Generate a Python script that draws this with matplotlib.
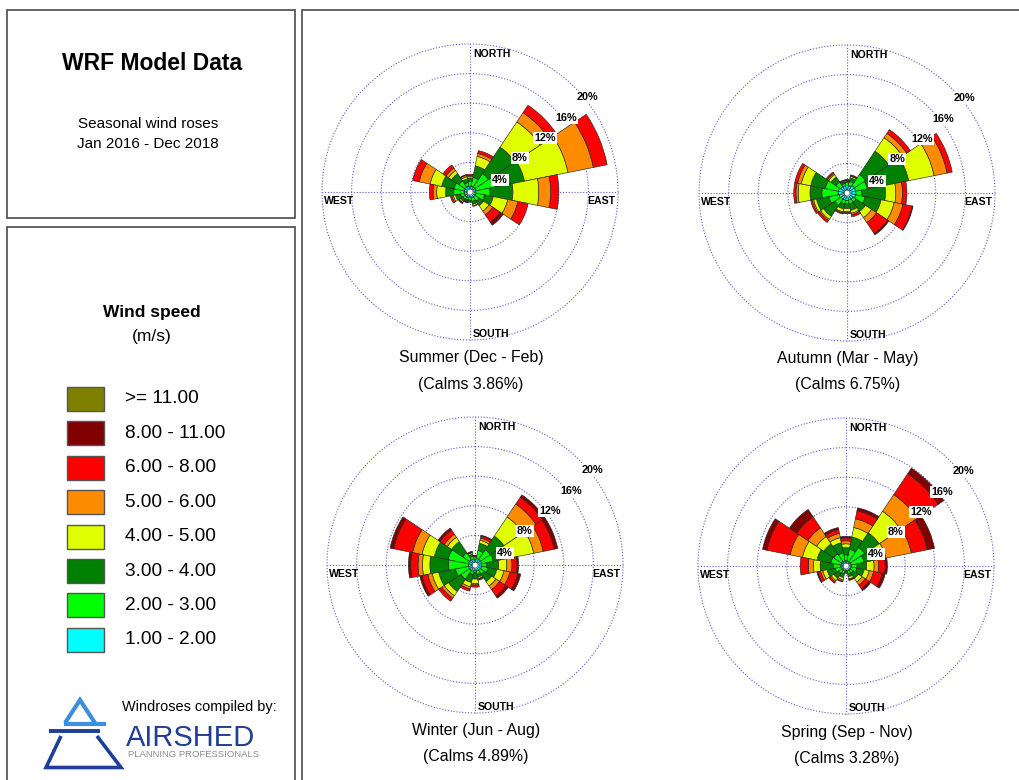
import numpy as np
import matplotlib
matplotlib.use('Agg')
import matplotlib.pyplot as plt
from matplotlib import font_manager
from matplotlib.patches import Rectangle
from matplotlib.lines import Line2D

# ---------------- data ----------------
DIRECTIONS = ['N', 'NNE', 'NE', 'ENE', 'E', 'ESE', 'SE', 'SSE',
              'S', 'SSW', 'SW', 'WSW', 'W', 'WNW', 'NW', 'NNW']
SPEED_CLASSES = ['1.00 - 2.00', '2.00 - 3.00', '3.00 - 4.00', '4.00 - 5.00',
                 '5.00 - 6.00', '6.00 - 8.00', '8.00 - 11.00', '>= 11.00']
CLASS_COLORS = ['#00ffff', '#00ff00', '#008000', '#e0ff00',
                '#ff8c00', '#ff0000', '#800000', '#808000']
RING_VALUES = [4, 8, 12, 16, 20]
SEASON_NAMES = ['Summer (Dec - Feb)', 'Autumn (Mar - May)',
                'Winter (Jun - Aug)', 'Spring (Sep - Nov)']
CALMS = [3.86, 6.75, 4.89, 3.28]

# frequency (%) per direction (rows, N clockwise) and speed class (columns)
SUMMER = [
    [0.4, 0.6, 0.5, 0.2, 0.15, 0.15, 0, 0],
    [0.4, 1.2, 1.6, 1.3, 0.4, 0.4, 0, 0],
    [0.4, 2.2, 4.3, 4.1, 1.5, 1.2, 0, 0],
    [0.4, 2.7, 4.0, 6.0, 3.5, 1.9, 0, 0],
    [0.4, 1.9, 3.1, 3.5, 1.6, 1.1, 0, 0],
    [0.4, 1.2, 1.2, 2.0, 1.4, 1.4, 0, 0],
    [0.4, 0.7, 0.7, 0.9, 0.6, 1.2, 0.5, 0],
    [0.4, 0.5, 0.4, 0.2, 0.1, 0, 0, 0],
    [0.3, 0.4, 0.2, 0.1, 0, 0, 0, 0],
    [0.4, 0.3, 0.2, 0.1, 0.05, 0.05, 0, 0],
    [0.4, 0.4, 0.3, 0.2, 0.1, 0.1, 0, 0],
    [0.4, 0.5, 0.7, 0.3, 0.2, 0.2, 0, 0],
    [0.4, 1.4, 1.1, 1.2, 0.5, 0.5, 0, 0],
    [0.4, 1.4, 1.7, 1.6, 1.5, 0.9, 0, 0],
    [0.4, 1.0, 1.2, 0.5, 0.4, 0.5, 0, 0],
    [0.4, 0.5, 0.5, 0.3, 0.2, 0.1, 0, 0],
]
AUTUMN = [
    [0.6, 0.4, 0.2, 0.1, 0.05, 0.05, 0, 0],
    [0.6, 0.6, 0.5, 0.2, 0.1, 0.1, 0, 0],
    [0.8, 1.8, 3.8, 2.2, 0.7, 0.6, 0, 0],
    [0.8, 1.6, 5.7, 3.5, 1.8, 0.7, 0, 0],
    [0.8, 0.8, 3.2, 1.4, 0.9, 0.6, 0, 0],
    [0.8, 1.3, 2.2, 1.8, 1.2, 1.3, 0.1, 0],
    [0.6, 0.5, 1.5, 1.0, 0.8, 1.8, 0.2, 0],
    [0.6, 0.5, 0.9, 0.4, 0.2, 0.3, 0, 0],
    [0.6, 0.4, 0.7, 0.4, 0.15, 0.15, 0, 0],
    [0.6, 0.5, 0.7, 0.4, 0.15, 0.15, 0, 0],
    [0.6, 1.0, 1.8, 0.5, 0.2, 0.3, 0, 0],
    [0.7, 1.4, 1.7, 0.4, 0.2, 0.2, 0, 0],
    [0.8, 2.2, 1.6, 1.6, 0.3, 0.3, 0, 0],
    [0.8, 1.8, 2.0, 1.3, 0.5, 0.4, 0, 0],
    [0.6, 0.8, 0.8, 0.4, 0.2, 0.2, 0, 0],
    [0.6, 0.3, 0.2, 0.1, 0.1, 0.1, 0, 0],
]
WINTER = [
    [0.4, 0.3, 0.1, 0.05, 0.05, 0, 0, 0],
    [0.5, 1.1, 1.0, 0.4, 0.3, 0.3, 0.1, 0],
    [0.5, 1.6, 2.2, 3.1, 2.1, 1.1, 0.4, 0],
    [0.5, 1.6, 2.0, 3.6, 1.3, 1.5, 0.5, 0],
    [0.5, 0.7, 1.6, 1.1, 0.7, 0.7, 0.2, 0],
    [0.5, 0.9, 1.2, 1.0, 0.8, 1.1, 0.4, 0],
    [0.5, 0.6, 1.2, 0.7, 0.6, 1.0, 0.4, 0],
    [0.4, 0.5, 0.4, 0.2, 0.1, 0.1, 0, 0],
    [0.4, 0.2, 0.9, 0.6, 0.2, 0.3, 0, 0],
    [0.5, 0.4, 1.1, 0.6, 0.3, 0.3, 0, 0],
    [0.5, 1.4, 2.0, 0.7, 0.4, 0.5, 0, 0],
    [0.5, 1.8, 2.3, 0.9, 0.6, 0.8, 0.3, 0],
    [0.5, 2.7, 2.5, 1.0, 0.6, 1.0, 0.3, 0],
    [0.5, 2.8, 1.9, 1.7, 1.3, 2.6, 0.5, 0],
    [0.5, 1.1, 1.8, 0.7, 0.5, 0.7, 0.3, 0],
    [0.4, 0.4, 0.3, 0.2, 0.1, 0.1, 0, 0],
]
SPRING = [
    [0.3, 0.8, 1.0, 0.5, 0.4, 0.4, 0.2, 0],
    [0.3, 1.6, 1.7, 1.3, 1.2, 1.1, 0.4, 0],
    [0.3, 2.3, 2.4, 3.5, 2.7, 3.4, 0.9, 0],
    [0.3, 1.8, 1.5, 1.5, 3.5, 2.2, 1.0, 0],
    [0.3, 0.8, 1.3, 1.0, 0.6, 0.9, 0.3, 0],
    [0.3, 0.8, 1.0, 0.7, 0.6, 1.2, 0.4, 0],
    [0.3, 0.5, 0.8, 0.6, 0.5, 0.6, 0.3, 0],
    [0.3, 0.4, 0.4, 0.3, 0.1, 0.1, 0, 0],
    [0.2, 0.2, 0.2, 0, 0, 0, 0, 0],
    [0.3, 0.4, 0.5, 0.3, 0.2, 0.1, 0, 0],
    [0.3, 0.5, 0.8, 0.4, 0.2, 0.2, 0, 0],
    [0.3, 0.8, 1.1, 0.6, 0.3, 0.4, 0.1, 0],
    [0.3, 1.0, 1.8, 0.9, 0.7, 1.1, 0, 0],
    [0.3, 1.4, 1.9, 2.0, 1.7, 3.2, 0.6, 0],
    [0.3, 1.3, 1.6, 1.2, 1.4, 1.8, 1.2, 0],
    [0.3, 1.1, 1.4, 0.7, 0.6, 0.5, 0.3, 0],
]
SEASON_DATA = [SUMMER, AUTUMN, WINTER, SPRING]

# ---------------- layout helpers ----------------
W, H = 1019, 780
fig = plt.figure(figsize=(W / 100, H / 100), dpi=100)
fig.patch.set_facecolor('white')

names = {f.name for f in font_manager.fontManager.ttflist}
SANS = 'Liberation Sans'
if 'Liberation Sans Narrow' in names:
    NARROW, NSCALE = 'Liberation Sans Narrow', 1.0
else:
    NARROW, NSCALE = 'Liberation Sans', 0.82


def fx(x):
    return x / W


def fy(y):
    return 1 - y / H


def ftext(x, y, s, **kw):
    kw.setdefault('family', SANS)
    fig.text(fx(x), fy(y), s, **kw)


BORDER = '#4a4a4a'
# frames
fig.add_artist(Rectangle((fx(7), fy(218)), (295 - 7) / W, (218 - 10) / H,
                         transform=fig.transFigure, fill=False, ec=BORDER, lw=1.2))
fig.add_artist(Rectangle((fx(7), fy(790)), (295 - 7) / W, (790 - 227) / H,
                         transform=fig.transFigure, fill=False, ec=BORDER, lw=1.2))
fig.add_artist(Rectangle((fx(302), fy(790)), (1030 - 302) / W, (790 - 10) / H,
                         transform=fig.transFigure, fill=False, ec=BORDER, lw=1.2))

# title panel
ftext(152, 64, 'WRF Model Data', fontsize=16.5, weight='bold', ha='center', va='center')
ftext(148, 124, 'Seasonal wind roses', fontsize=11, ha='center', va='center')
ftext(148, 144, 'Jan 2016 - Dec 2018', fontsize=11, ha='center', va='center')

# legend panel
ftext(152, 312, 'Wind speed', fontsize=12.5, weight='bold', ha='center', va='center')
ftext(152, 337, '(m/s)', fontsize=12.5, ha='center', va='center')
row_y0, row_dy = 399, 34.4
for i, (lab, col) in enumerate(zip(SPEED_CLASSES[::-1], CLASS_COLORS[::-1])):
    yc = row_y0 + i * row_dy
    fig.add_artist(Rectangle((fx(67), fy(yc + 12)), 37 / W, 24 / H,
                             transform=fig.transFigure, fc=col, ec='#555555', lw=1.0))
    ftext(125, yc, lab, fontsize=13.7, ha='left', va='center')

# logo
ftext(122, 707, 'Windroses compiled by:', fontsize=12.7 * NSCALE, family=NARROW,
      ha='left', va='center')
LIGHT_BLUE, DARK_BLUE = '#3b8fdc', '#1f3f95'


def fline(xs, ys, color, lw):
    fig.add_artist(Line2D([fx(x) for x in xs], [fy(y) for y in ys],
                          transform=fig.transFigure, color=color, lw=lw,
                          solid_joinstyle='miter', solid_capstyle='butt'))


fline([65, 80, 95], [723, 700, 723], LIGHT_BLUE, 3.0)
fline([64, 106], [723.5, 723.5], LIGHT_BLUE, 3.0)
fline([49, 100], [730.5, 730.5], DARK_BLUE, 2.8)
fline([61, 46, 121, 97], [736, 767.5, 767.5, 736], DARK_BLUE, 2.6)
ftext(126, 746, 'AIRSHED', fontsize=21, color=DARK_BLUE, ha='left', va='baseline')
ftext(128, 757, 'PLANNING PROFESSIONALS', fontsize=8.3 * NSCALE, family=NARROW,
      color='#8c8c8c', ha='left', va='baseline')

# ---------------- wind roses ----------------
CENTERS = [(470, 192), (847, 193), (475, 565), (846, 566)]
R_PX = 148
RMAX = 20
HOLE = 0.4
GRID_COLOR = '#5a5ac8'
LABEL_OFFSETS = [(30, -12), (50, -34), (75, -54), (96, -74), (117, -95)]
theta = np.arange(len(DIRECTIONS)) * 2 * np.pi / len(DIRECTIONS)
width = 2 * np.pi / len(DIRECTIONS)
circ = np.linspace(0, 2 * np.pi, 361)

for (cx, cy), data, name, calm in zip(CENTERS, SEASON_DATA, SEASON_NAMES, CALMS):
    ax = fig.add_axes([fx(cx - R_PX), fy(cy + R_PX), 2 * R_PX / W, 2 * R_PX / H],
                      projection='polar')
    ax.set_theta_zero_location('N')
    ax.set_theta_direction(-1)
    ax.set_ylim(0, RMAX)
    ax.set_axis_off()
    # grid
    for r in RING_VALUES:
        ax.plot(circ, np.full_like(circ, r), ls=(0, (1, 1.6)), color=GRID_COLOR,
                lw=0.8, zorder=1, clip_on=False)
    for t in (0, np.pi / 2, np.pi, 3 * np.pi / 2):
        ax.plot([t, t], [0, RMAX], ls=(0, (1, 1.6)), color=GRID_COLOR, lw=0.8,
                zorder=1, clip_on=False)
    arr = np.array(data, dtype=float)
    bottom = np.full(len(DIRECTIONS), HOLE)
    for k in range(arr.shape[1]):
        h = arr[:, k]
        m = h > 0
        if m.any():
            ax.bar(theta[m], h[m], width=width, bottom=bottom[m], color=CLASS_COLORS[k],
                   edgecolor='#262626', linewidth=0.45, align='center', zorder=2)
        bottom = bottom + h
    ax.fill_between(circ, 0, HOLE, color='white', zorder=3, lw=0)
    ax.plot(circ, np.full_like(circ, HOLE), color='#555555', lw=0.5, zorder=3)
    # ring labels
    for r, (dx, dy) in zip(RING_VALUES, LABEL_OFFSETS):
        rr = np.hypot(dx, dy) / R_PX * RMAX
        tt = np.arctan2(dx, -dy)
        ax.text(tt, rr, f'{r}%', fontsize=7.8, weight='bold', family=SANS,
                ha='center', va='center', zorder=5,
                bbox=dict(boxstyle='square,pad=0.12', fc='white', ec='none'))
    # compass labels
    ftext(cx + 3, cy - 138, 'NORTH', fontsize=7.6, weight='bold', ha='left', va='center')
    ftext(cx + 3, cy + 142, 'SOUTH', fontsize=7.6, weight='bold', ha='left', va='center')
    ftext(cx + 145, cy + 9, 'EAST', fontsize=7.6, weight='bold', ha='right', va='center')
    ftext(cx - 146, cy + 9, 'WEST', fontsize=7.6, weight='bold', ha='left', va='center')
    # titles
    ftext(cx + 1, cy + 166, name, fontsize=13.9 * NSCALE, family=NARROW,
          ha='center', va='center')
    ftext(cx + 1, cy + 192, f'(Calms {calm:.2f}%)', fontsize=13.9 * NSCALE,
          family=NARROW, ha='center', va='center')

fig.savefig('out.png', dpi=100, facecolor='white')
